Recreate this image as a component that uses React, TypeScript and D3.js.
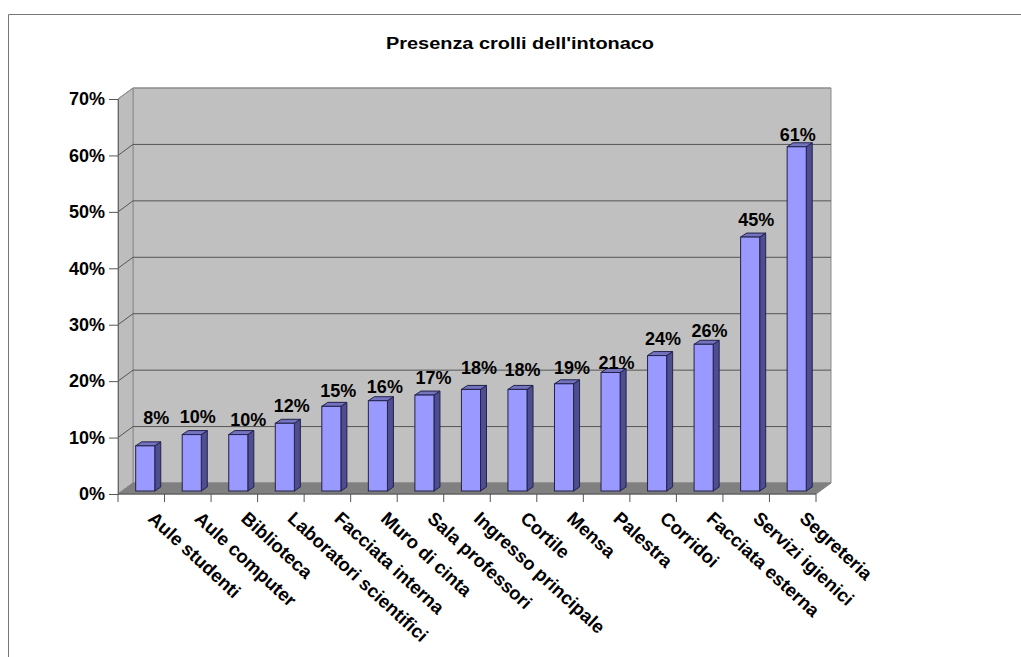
// App.tsx - Presenza crolli dell'intonaco, 3D style column chart
import React, { useEffect, useRef } from "react";
import * as d3 from "d3";

const categories = [
  "Aule studenti", "Aule computer", "Biblioteca", "Laboratori scientifici",
  "Facciata interna", "Muro di cinta", "Sala professori", "Ingresso principale",
  "Cortile", "Mensa", "Palestra", "Corridoi", "Facciata esterna",
  "Servizi igienici", "Segreteria",
];
const values = [8, 10, 10, 12, 15, 16, 17, 18, 18, 19, 21, 24, 26, 45, 61];
const yTicks = [0, 10, 20, 30, 40, 50, 60, 70];

const FONT = "'Liberation Sans', Arial, sans-serif";
const DX = 15; // wall depth
const DY = -11;
const BDX = 6; // bar depth
const BDY = -4;

// the original's data labels sit a bit unevenly above the bars
const labelShiftX = [11, 6, 10, 7, 7, 7, 9, 8, 5, 8, 6, 6, 6, 6, 1];
const labelShiftY = [22, 12, 9, 11, 9, 8, 11, 15, 13, 10, 4, 11, 7, 11, 6];

const poly = (pts: number[][]) => "M" + pts.map((p) => p.join(",")).join("L") + "Z";

export default function App() {
  const ref = useRef<SVGSVGElement>(null);

  useEffect(() => {
    const svg = d3.select(ref.current);
    svg.selectAll("*").remove();

    const x = d3.scaleBand<string>().domain(categories).range([118, 816]);
    const y = d3.scaleLinear().domain([0, 70]).range([494, 99]);
    const x0 = x.range()[0];
    const x1 = x.range()[1];

    // frame of the chart area
    svg.append("path")
      .attr("d", "M8.5,657V14.5H1021")
      .attr("fill", "none")
      .attr("stroke", "#777")
      .attr("stroke-width", 1);

    // title is stretched sideways in the original
    svg.append("text")
      .attr("x", 520).attr("y", 49)
      .attr("text-anchor", "middle")
      .attr("font-family", FONT).attr("font-size", 16).attr("font-weight", "bold")
      .attr("textLength", 268).attr("lengthAdjust", "spacingAndGlyphs")
      .attr("fill", "#000")
      .text("Presenza crolli dell'intonaco");

    // walls and floor
    svg.append("path")
      .attr("d", poly([[x0 + DX, y(70) + DY], [x1 + DX, y(70) + DY], [x1 + DX, y(0) + DY], [x0 + DX, y(0) + DY]]))
      .attr("fill", "#c0c0c0").attr("stroke", "#8c8c8c");
    svg.append("path")
      .attr("d", poly([[x0, y(70)], [x0 + DX, y(70) + DY], [x0 + DX, y(0) + DY], [x0, y(0)]]))
      .attr("fill", "#bdbdbd").attr("stroke", "#8c8c8c");
    svg.append("path")
      .attr("d", poly([[x0, y(0)], [x0 + DX, y(0) + DY], [x1 + DX, y(0) + DY], [x1, y(0)]]))
      .attr("fill", "#808080").attr("stroke", "#808080");

    // gridlines run along the side wall and then the back wall
    svg.append("g").selectAll("path")
      .data(yTicks.filter((t) => t > 0))
      .join("path")
      .attr("d", (t) => `M${x0},${y(t)}L${x0 + DX},${y(t) + DY}H${x1 + DX}`)
      .attr("fill", "none")
      .attr("stroke", (t) => (t === 70 ? "#8c8c8c" : "#555"))
      .attr("stroke-width", 1);

    // y axis
    const yAxis = svg.append("g").attr("transform", `translate(${x0},0)`)
      .call(d3.axisLeft(y).tickValues(yTicks).tickSize(9).tickPadding(4).tickFormat((d) => `${d}%`));
    yAxis.select(".domain").attr("stroke", "#666");
    yAxis.selectAll("line").attr("stroke", "#555");
    yAxis.selectAll("text")
      .attr("font-family", FONT).attr("font-size", 18).attr("font-weight", "bold").attr("fill", "#000");

    // x axis, labels placed separately because they are slanted
    const xAxis = svg.append("g").attr("transform", `translate(0,${y(0)})`);
    xAxis.append("path")
      .attr("d", `M${x0},0H${x1}`).attr("stroke", "#555");
    xAxis.selectAll("line")
      .data(d3.range(categories.length + 1))
      .join("line")
      .attr("x1", (i) => x0 + i * x.step()).attr("x2", (i) => x0 + i * x.step())
      .attr("y1", 0).attr("y2", 8)
      .attr("stroke", "#555");

    const barW = x.bandwidth() * 0.41;
    const barX = (d: string) => (x(d) as number) + x.bandwidth() * 0.38;
    const barTop = (v: number) => y(v) - 3;
    const barBase = y(0) - 3;

    const bars = svg.append("g").selectAll("g")
      .data(categories)
      .join("g");

    bars.append("path")
      .attr("d", (d, i) => {
        const l = barX(d) + barW;
        const t = barTop(values[i]);
        return poly([[l, t], [l + BDX, t + BDY], [l + BDX, barBase + BDY], [l, barBase]]);
      })
      .attr("fill", "#4d4d8f").attr("stroke", "#22224a");
    bars.append("path")
      .attr("d", (d, i) => {
        const l = barX(d);
        const t = barTop(values[i]);
        return poly([[l, t], [l + BDX, t + BDY], [l + barW + BDX, t + BDY], [l + barW, t]]);
      })
      .attr("fill", "#7373bf").attr("stroke", "#22224a");
    bars.append("rect")
      .attr("x", (d) => barX(d))
      .attr("y", (d, i) => barTop(values[i]))
      .attr("width", barW)
      .attr("height", (d, i) => barBase - barTop(values[i]))
      .attr("fill", "#9999ff").attr("stroke", "#22224a");

    // data labels
    svg.append("g").selectAll("text")
      .data(categories)
      .join("text")
      .attr("x", (d, i) => barX(d) + barW / 2 + labelShiftX[i])
      .attr("y", (d, i) => barTop(values[i]) - labelShiftY[i])
      .attr("text-anchor", "middle")
      .attr("font-family", FONT).attr("font-size", 18).attr("font-weight", "bold").attr("fill", "#000")
      .text((d, i) => `${values[i]}%`);

    // category labels
    svg.append("g").selectAll("text")
      .data(categories)
      .join("text")
      .attr("transform", (d) => `translate(${(x(d) as number) + 29},${y(0) + 26}) rotate(42.5)`)
      .attr("font-family", FONT).attr("font-size", 18.5).attr("font-weight", "bold").attr("fill", "#000")
      .text((d) => d);
  }, []);

  return (
    <svg
      ref={ref}
      width={1021}
      height={657}
      style={{ position: "absolute", left: 0, top: 0, background: "#fff" }}
    />
  );
}
